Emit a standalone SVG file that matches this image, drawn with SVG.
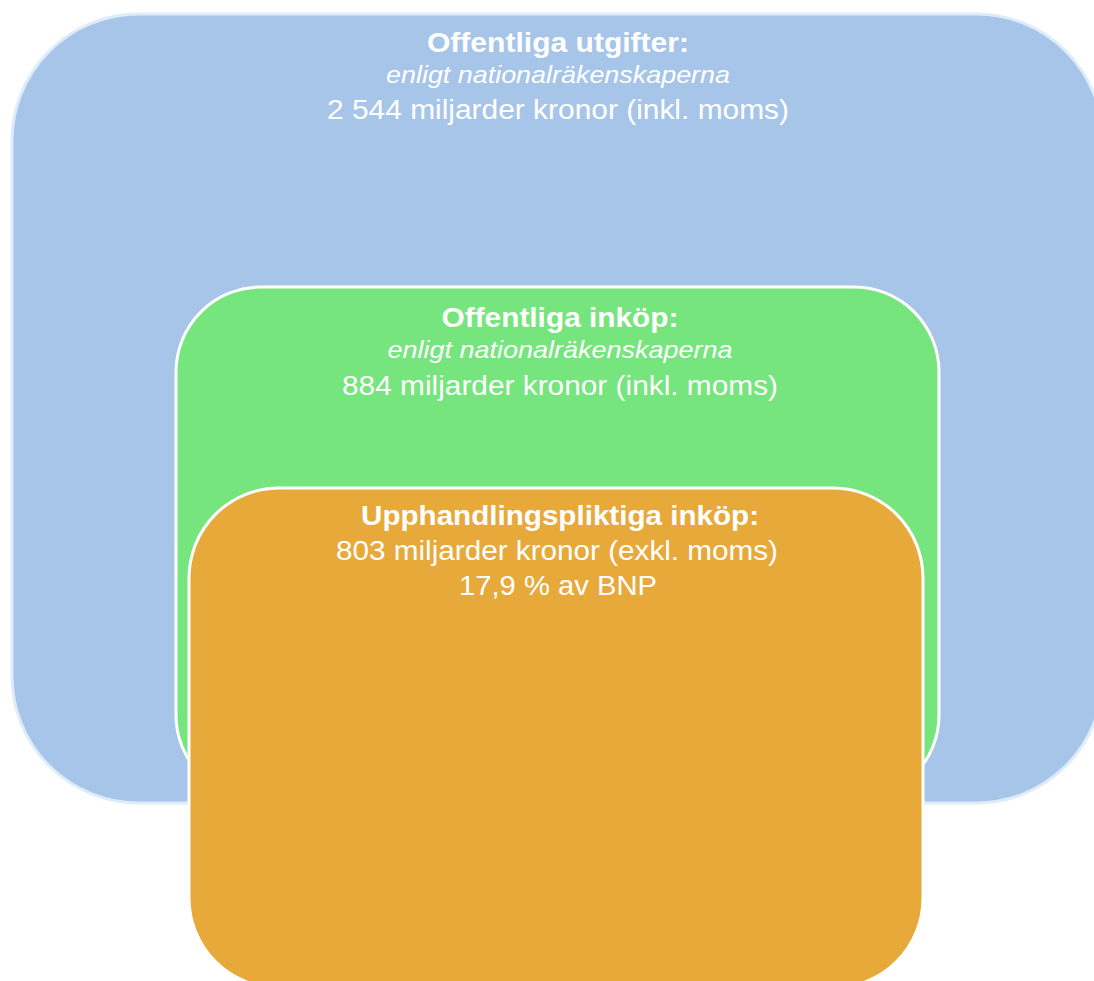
<svg xmlns="http://www.w3.org/2000/svg" width="1094" height="981" viewBox="0 0 1094 981">
  <style>
    .t { font-family: "Liberation Sans", Arial, sans-serif; fill: #ffffff; text-anchor: middle; }
    .b { font-size: 27px; font-weight: bold; }
    .i { font-size: 24px; font-style: italic; }
    .n { font-size: 27px; }
    .box-w { stroke: #ffffff; stroke-width: 3; }
  </style>
  <rect width="1094" height="981" fill="#ffffff"/>
  <g id="offentliga-utgifter">
    <rect x="12" y="14" width="1091" height="789" rx="127" ry="127" fill="#A7C5E8" stroke="#DDEBFA" stroke-width="3"/>
    <text class="t b" x="558" y="52" textLength="262" lengthAdjust="spacingAndGlyphs">Offentliga utgifter:</text>
    <text class="t i" x="558" y="83" textLength="344" lengthAdjust="spacingAndGlyphs">enligt nationalräkenskaperna</text>
    <text class="t n" x="558" y="119" textLength="462" lengthAdjust="spacingAndGlyphs">2 544 miljarder kronor (inkl. moms)</text>
  </g>
  <g id="offentliga-inkop">
    <rect class="box-w" x="176" y="287" width="763" height="513" rx="85" ry="85" fill="#76E57D"/>
    <text class="t b" x="560" y="327" textLength="237" lengthAdjust="spacingAndGlyphs">Offentliga inköp:</text>
    <text class="t i" x="560" y="358" textLength="345" lengthAdjust="spacingAndGlyphs">enligt nationalräkenskaperna</text>
    <text class="t n" x="560" y="395" textLength="436" lengthAdjust="spacingAndGlyphs">884 miljarder kronor (inkl. moms)</text>
  </g>
  <g id="upphandlingspliktiga-inkop">
    <rect class="box-w" x="189" y="488" width="734" height="500" rx="90" ry="90" fill="#E8A93B"/>
    <text class="t b" x="560" y="525" textLength="398" lengthAdjust="spacingAndGlyphs">Upphandlingspliktiga inköp:</text>
    <text class="t n" x="557" y="560" textLength="442" lengthAdjust="spacingAndGlyphs">803 miljarder kronor (exkl. moms)</text>
    <text class="t n" x="558" y="595" textLength="198" lengthAdjust="spacingAndGlyphs">17,9 % av BNP</text>
  </g>
  <g id="connectors"/>
</svg>
